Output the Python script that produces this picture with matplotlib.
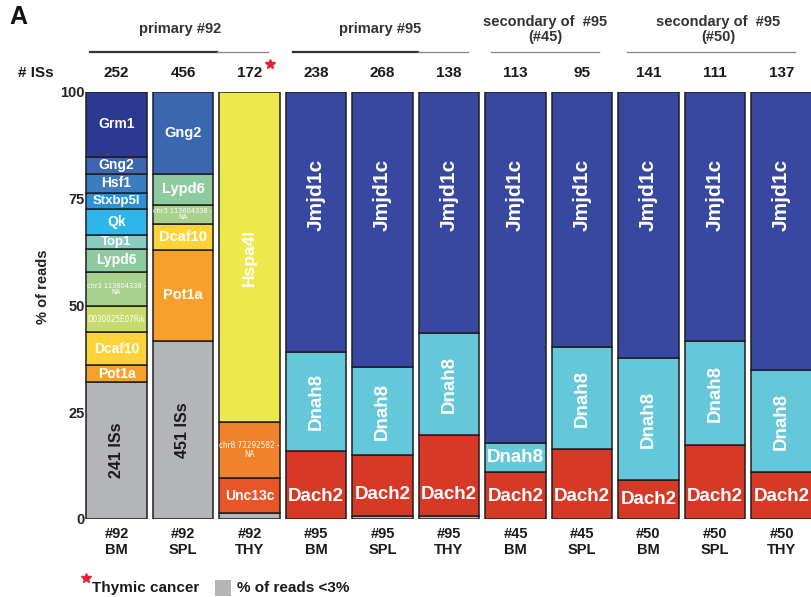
import matplotlib
matplotlib.use("Agg")
import matplotlib.pyplot as plt
from matplotlib.lines import Line2D
from matplotlib.patches import Rectangle
import matplotlib.transforms as mtransforms

plt.rcParams['font.family'] = ['Liberation Sans', 'DejaVu Sans']

# ---------------- data ----------------
samples = ['#92\nBM', '#92\nSPL', '#92\nTHY', '#95\nBM', '#95\nSPL', '#95\nTHY',
           '#45\nBM', '#45\nSPL', '#50\nBM', '#50\nSPL', '#50\nTHY']
is_counts = ['252', '456', '172', '238', '268', '138', '113', '95', '141', '111', '137']
grey_labels = ['241 ISs', '451 ISs', '', '', '', '', '', '', '', '', '']

genes_92BM = ['<3%', 'Pot1a', 'Dcaf10', 'D030025E07Rik', 'chr3 113604338 -\nNA',
              'Lypd6', 'Top1', 'Qk', 'Stxbp5l', 'Hsf1', 'Gng2', 'Grm1']
vals_92BM = [32.0, 4.0, 7.7, 6.1, 8.1, 5.4, 3.3, 6.1, 3.7, 4.4, 4.0, 15.2]

genes_92SPL = ['<3%', 'Pot1a', 'Dcaf10', 'chr3 113604338 -\nNA', 'Lypd6', 'Gng2']
vals_92SPL = [41.8, 21.3, 6.1, 4.4, 7.2, 19.2]

genes_92THY = ['<3%', 'Unc13c', 'chr8 72292582 -\nNA', 'Hspa4l']
vals_92THY = [1.4, 8.2, 13.1, 77.3]

genes_common = ['<3%', 'Dach2', 'Dnah8', 'Jmjd1c']
vals_95BM = [0.0, 15.9, 23.1, 61.0]
vals_95SPL = [0.6, 14.4, 20.5, 64.5]
vals_95THY = [0.6, 19.0, 23.9, 56.5]
vals_45BM = [0.0, 11.0, 6.8, 82.2]
vals_45SPL = [0.0, 16.4, 23.8, 59.8]
vals_50BM = [0.0, 9.1, 28.5, 62.4]
vals_50SPL = [0.0, 17.3, 24.3, 58.4]
vals_50THY = [0.0, 11.0, 23.8, 65.2]

groups = ['primary #92', 'primary #95', 'secondary of  #95\n(#45)', 'secondary of  #95\n(#50)']

bars = [(genes_92BM, vals_92BM), (genes_92SPL, vals_92SPL), (genes_92THY, vals_92THY),
        (genes_common, vals_95BM), (genes_common, vals_95SPL), (genes_common, vals_95THY),
        (genes_common, vals_45BM), (genes_common, vals_45SPL),
        (genes_common, vals_50BM), (genes_common, vals_50SPL), (genes_common, vals_50THY)]

# ---------------- style ----------------
colors = {
    '<3%': '#B4B5B9', 'Pot1a': '#F7A02C', 'Dcaf10': '#FDD339', 'D030025E07Rik': '#C6DB6C',
    'chr3 113604338 -\nNA': '#A9D18E', 'Lypd6': '#8DCB9F', 'Top1': '#86CEBF', 'Qk': '#2DB6EA',
    'Stxbp5l': '#2E90D5', 'Hsf1': '#3C7CC1', 'Gng2': '#3A67B0', 'Grm1': '#2B3990',
    'Unc13c': '#E8552A', 'chr8 72292582 -\nNA': '#F0822B', 'Hspa4l': '#EDE84B',
    'Dach2': '#D63A26', 'Dnah8': '#64C8DA', 'Jmjd1c': '#3848A0',
}
narrow = ['Liberation Sans Narrow', 'DejaVu Sans']

W, H = 812, 597
fig = plt.figure(figsize=(W / 100, H / 100), dpi=100)

def fx(x):
    return x / W

def fy(y):
    return 1 - y / H

x0_px, step_px = 116.5, 66.5
left_px = x0_px - 0.6 * step_px
ax = fig.add_axes([fx(left_px), fy(519), 1 - fx(left_px), (519 - 92) / H])
ax.set_xlim(-0.6, (W - x0_px) / step_px)
ax.set_ylim(0, 100)
for s in ax.spines.values():
    s.set_visible(False)
ax.set_xticks([])
ax.set_yticks([0, 25, 50, 75, 100])
ax.tick_params(axis='y', length=0, pad=-6, labelsize=10.5)
for lab in ax.get_yticklabels():
    lab.set_fontweight('bold')
    lab.set_color('#222222')

bw = 0.915
for i, (genes, vals) in enumerate(bars):
    bottom = 0.0
    for g, v in zip(genes, vals):
        if v <= 0:
            continue
        ax.bar(i, v, bottom=bottom, width=bw, color=colors[g], edgecolor='#1E1E1E',
               linewidth=1.1, zorder=2)
        cy = bottom + v / 2
        top = bottom + v
        if g == '<3%':
            if grey_labels[i]:
                ax.text(i, cy, grey_labels[i], rotation=90, ha='center', va='center',
                        fontsize=11.5, fontweight='bold', color='#1A1A1A', zorder=3)
        elif g.startswith('chr') or g.startswith('D0300'):
            if g.startswith('chr8'):
                fs = 5.9
            elif g.startswith('chr3'):
                fs = 5.3
            else:
                fs = 5.8
            ax.text(i, cy, g, ha='center', va='center', fontsize=fs, color='white',
                    family=narrow, fontstretch='condensed', linespacing=1.05, zorder=3)
        elif g == 'Jmjd1c':
            ax.text(i, 76, g, rotation=90, ha='center', va='center', fontsize=15,
                    fontweight='bold', color='white', zorder=3)
        elif g == 'Dach2':
            ax.text(i, bottom + min(v / 2, 5.2), g, ha='center', va='center', fontsize=13.5,
                    fontweight='bold', color='white', zorder=3)
        elif g == 'Dnah8':
            rot = 90 if v > 12 else 0
            ax.text(i, cy, g, rotation=rot, ha='center', va='center', fontsize=13.5,
                    fontweight='bold', color='white', zorder=3)
        elif g == 'Hspa4l':
            ax.text(i, cy, g, rotation=90, ha='center', va='center', fontsize=12.5,
                    fontweight='bold', color='white', zorder=3)
        else:
            fs = 10.5 if i == 1 else 10
            if g in ('Stxbp5l', 'Top1'):
                fs = 9.5
            ax.text(i, cy, g, ha='center', va='center', fontsize=fs,
                    fontweight='bold', color='white', zorder=3)
        bottom = top

# sample labels and IS counts
bt = mtransforms.blended_transform_factory(ax.transData, fig.transFigure)
for i in range(len(samples)):
    ax.text(i, fy(527), samples[i], transform=bt, ha='center', va='top', fontsize=10.5,
            fontweight='bold', color='#1A1A1A', linespacing=1.15, clip_on=False)
    ax.text(i, fy(73), is_counts[i], transform=bt, ha='center', va='center', fontsize=11,
            fontweight='bold', color='#1A1A1A', clip_on=False)

# group headers
header_x = [180, 380, 545, 718]
for t, x in zip(groups, header_x):
    fig.text(fx(x), fy(29.5), t, ha='center', va='center',
             fontsize=10.5, fontweight='bold', color='#333333', linespacing=1.15)

# header rules
dark_rules = [(90, 217), (293, 418)]
light_rules = [(217, 268), (418, 468), (491, 599), (627, 795)]
for a, b in dark_rules:
    fig.add_artist(Line2D([fx(a), fx(b)], [fy(52), fy(52)], color='#333333', lw=1.6))
for a, b in light_rules:
    fig.add_artist(Line2D([fx(a), fx(b)], [fy(52), fy(52)], color='#8A8A8A', lw=1.0))

fig.text(fx(18), fy(73), '# ISs', ha='left', va='center', fontsize=11, fontweight='bold',
         color='#1A1A1A')
fig.text(fx(9), fy(17), 'A', ha='left', va='center', fontsize=18, fontweight='bold',
         color='#111111')
fig.text(fx(43), fy(287), '% of reads', rotation=90, ha='center', va='center',
         fontsize=10.5, fontweight='bold', color='#222222')

# red stars
fig.add_artist(Line2D([fx(270)], [fy(64)], marker='*', color='#E8202A', markersize=7, lw=0))
fig.add_artist(Line2D([fx(86)], [fy(578)], marker='*', color='#E8202A', markersize=7, lw=0))

# legend
fig.text(fx(92), fy(588), 'Thymic cancer', ha='left', va='center', fontsize=11,
         fontweight='bold', color='#1A1A1A')
fig.add_artist(Rectangle((fx(215), fy(596)), fx(16), 16 / H, transform=fig.transFigure,
                         facecolor=colors['<3%'], edgecolor='none'))
fig.text(fx(237), fy(588), '% of reads <3%', ha='left', va='center', fontsize=11,
         fontweight='bold', color='#1A1A1A')

fig.savefig('out.png', dpi=100)
